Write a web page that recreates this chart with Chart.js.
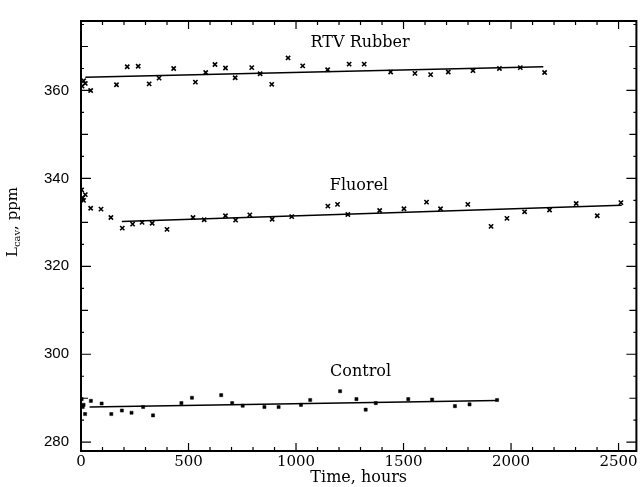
<!DOCTYPE html>
<html>
<head>
<meta charset="utf-8">
<script src="https://cdn.jsdelivr.net/npm/chart.js@4/dist/chart.umd.min.js"></script>
<style>
html,body{margin:0;padding:0;background:#fff}
canvas{display:block}
</style>
</head>
<body>
<canvas id="chart" width="641" height="487"></canvas>
<script>
// values
const rtvTime=[5,12,20,45,165,215,266,317,363,431,532,580,623,672,717,794,833,887,963,1031,1147,1247,1317,1440,1553,1626,1708,1823,1946,2043,2156];
const rtvPpm=[361.0,362.2,361.6,360.0,361.3,365.4,365.5,361.5,362.8,365.0,361.9,364.1,365.9,365.1,362.9,365.2,363.8,361.4,367.4,365.6,364.7,366.0,366.0,364.2,363.9,363.6,364.2,364.5,365.0,365.2,364.1];

const fluTime=[3,8,12,20,45,93,139,192,240,284,331,400,521,573,672,719,785,889,980,1148,1193,1241,1389,1502,1607,1672,1799,1907,1981,2063,2179,2303,2401,2511];
const fluPpm=[337.4,335.6,335.0,336.3,333.2,333.0,331.1,328.7,329.6,330.0,329.8,328.4,331.1,330.6,331.5,330.5,331.7,330.7,331.3,333.7,334.1,331.8,332.7,333.1,334.6,333.1,334.1,329.1,330.9,332.4,332.8,334.3,331.5,334.5];

const ctlTime=[3,8,12,19,46,96,141,190,235,289,335,467,516,652,703,752,853,919,1023,1066,1205,1281,1324,1371,1522,1633,1739,1807,1935];
const ctlPpm=[289.8,288.0,288.5,286.4,289.4,288.8,286.4,287.2,286.7,288.0,286.1,288.9,290.1,290.7,288.9,288.3,288.0,288.0,288.5,289.6,291.6,289.8,287.4,288.9,289.8,289.7,288.2,288.6,289.6];

// fitted lines (end points)
const rtvFitTime=[20,2150], rtvFitPpm=[363.0,365.4];
const fluFitTime=[190,2515], fluFitPpm=[330.2,333.9];
const ctlFitTime=[40,1935], ctlFitPpm=[288.0,289.5];

const xTicks=[0,500,1000,1500,2000,2500];
const yTicks=[280,300,320,340,360];
const xMin=0, xMax=2583, yMin=278, yMax=375.8;

const seriesNames=['RTV Rubber','Fluorel','Control'];

function pts(xs,ys){
return xs.map((t,i)=>({x:t,y:ys[i]}));
}

function marks(xs,ys,style,r){
return {data:pts(xs,ys),pointStyle:style,pointRadius:r,pointHoverRadius:r,
borderColor:'#000',backgroundColor:'#000',borderWidth:style==='rect'?0.5:1.6,showLine:false};
}

function fit(xs,ys){
return {data:pts(xs,ys),showLine:true,pointRadius:0,borderColor:'#000',borderWidth:1.5,fill:false};
}

// inward ticks on all four sides plus the box
const frame={
id:'frame',
afterDatasetsDraw(chart){
const {ctx,chartArea:a,scales:{x,y}}=chart;
ctx.save();
ctx.strokeStyle='#000';
ctx.lineWidth=1.2;
ctx.beginPath();
for(let t=0;t<=xMax;t+=100){
const px=x.getPixelForValue(t);
const len=t%500===0?8:4;
ctx.moveTo(px,a.bottom);ctx.lineTo(px,a.bottom-len);
ctx.moveTo(px,a.top);ctx.lineTo(px,a.top+len);
}
for(let v=280;v<=yMax;v+=5){
const py=y.getPixelForValue(v);
const len=v%20===0?10:(v%10===0?7:3);
ctx.moveTo(a.left,py);ctx.lineTo(a.left+len,py);
ctx.moveTo(a.right,py);ctx.lineTo(a.right-len,py);
}
ctx.stroke();
ctx.lineWidth=2;
ctx.strokeRect(a.left,a.top,a.right-a.left,a.bottom-a.top);
ctx.restore();
}
};

// series names written beside their lines, and the y title with its subscript
const texts={
id:'texts',
afterDraw(chart){
const {ctx,scales:{x,y}}=chart;
const spots=[[1298,370.9],[1293,338.3],[1300,296.1]];
ctx.save();
ctx.fillStyle='#000';
ctx.font='16px "DejaVu Serif"';
ctx.textAlign='center';
ctx.textBaseline='middle';
seriesNames.forEach((n,i)=>{
ctx.fillText(n,x.getPixelForValue(spots[i][0]),y.getPixelForValue(spots[i][1]));
});

ctx.translate(13,222);
ctx.rotate(-Math.PI/2);
ctx.textAlign='left';
const big='15px "DejaVu Serif"', small='10px "DejaVu Serif"';
ctx.font=big; const wL=ctx.measureText('L').width;
ctx.font=small; const wS=ctx.measureText('cav').width;
ctx.font=big; const wR=ctx.measureText(', ppm').width;
let cx=-(wL+wS+wR)/2;
ctx.font=big; ctx.fillText('L',cx,0); cx+=wL;
ctx.font=small; ctx.fillText('cav',cx,4); cx+=wS;
ctx.font=big; ctx.fillText(', ppm',cx,0);
ctx.restore();
}
};

new Chart(document.getElementById('chart'),{
type:'scatter',
data:{datasets:[
marks(rtvTime,rtvPpm,'crossRot',3),
marks(fluTime,fluPpm,'crossRot',3),
marks(ctlTime,ctlPpm,'rect',2.2),
fit(rtvFitTime,rtvFitPpm),
fit(fluFitTime,fluFitPpm),
fit(ctlFitTime,ctlFitPpm)
]},
options:{
responsive:false,
animation:false,
layout:{padding:{top:13,right:2,left:0,bottom:0}},
plugins:{legend:{display:false},tooltip:{enabled:false}},
scales:{
x:{
type:'linear',min:xMin,max:xMax,
afterBuildTicks(s){s.ticks=xTicks.map(v=>({value:v}));},
afterFit(s){s.height=36;},
grid:{display:false,drawTicks:false},
border:{display:false},
ticks:{color:'#000',padding:2,maxRotation:0,callback:v=>String(v),font:{family:'DejaVu Serif',size:15}},
title:{display:true,text:'Time, hours',color:'#000',padding:{top:0,bottom:0},font:{family:'DejaVu Serif',size:16}}
},
y:{
type:'linear',min:yMin,max:yMax,
afterBuildTicks(s){s.ticks=yTicks.map(v=>({value:v}));},
afterFit(s){s.width=81;},
grid:{display:false,drawTicks:false},
border:{display:false},
ticks:{color:'#000',padding:12,callback:v=>String(v),font:{family:'Liberation Sans',size:15}}
}
}
},
plugins:[frame,texts]
});
</script>
</body>
</html>
